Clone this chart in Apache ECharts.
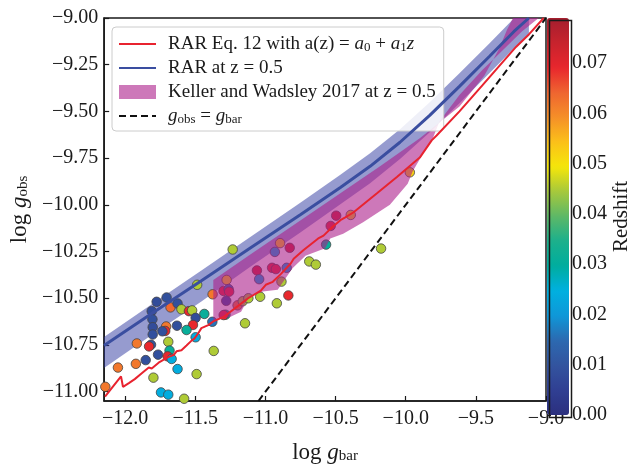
<!DOCTYPE html>
<html><head><meta charset="utf-8">
<script src="https://cdn.jsdelivr.net/npm/echarts@6/dist/echarts.min.js"></script>
<style>html,body{margin:0;padding:0;background:#fff}#c{width:633px;height:469px}</style>
</head><body><div id="c"></div>
<script>
// ---- tick values ----
const xTicks = [-12.0, -11.5, -11.0, -10.5, -10.0, -9.5, -9.0];
const yTicks = [-11.0, -10.75, -10.5, -10.25, -10.0, -9.75, -9.5, -9.25, -9.0];
const cbTicks = [0.00, 0.01, 0.02, 0.03, 0.04, 0.05, 0.06, 0.07];

// ---- galaxies: log gbar, log gobs, redshift ----
const galX = [-11.776,-11.705,-11.811,-11.806,-11.804,-11.804,-11.816,-11.677,-11.627,-11.599,
  -11.546,-11.523,-11.436,-11.498,-11.379,-11.517,-11.563,-11.708,-11.715,-11.735,
  -11.631,-11.498,-11.693,-11.830,-11.917,-11.766,-11.684,-11.698,-11.669,-11.854,
  -11.924,-12.052,-11.627,-11.799,-11.491,-11.369,-11.745,-11.693,-11.580,-12.142,
  -11.487,-11.377,-11.234,-11.277,-11.299,-11.263,-11.259,-11.280,-11.199,-11.162,
  -11.122,-11.285,-11.298,-11.146,-11.038,-10.919,-10.837,-10.886,-11.061,-11.045,
  -10.953,-10.926,-10.849,-10.933,-10.896,-10.827,-10.688,-10.641,-10.568,-10.535,
  -10.496,-10.392,-9.971,-10.176];
const galY = [-10.519,-10.496,-10.569,-10.613,-10.655,-10.694,-10.749,-10.549,-10.528,-10.559,
  -10.569,-10.565,-10.584,-10.605,-10.626,-10.643,-10.670,-10.651,-10.675,-10.677,
  -10.647,-10.709,-10.733,-10.758,-10.742,-10.802,-10.780,-10.811,-10.825,-10.831,
  -10.851,-10.871,-10.879,-10.925,-10.906,-10.782,-11.004,-11.016,-11.038,-10.974,
  -10.428,-10.479,-10.239,-10.402,-10.461,-10.451,-10.465,-10.514,-10.538,-10.516,
  -10.500,-10.588,-10.590,-10.634,-10.492,-10.527,-10.485,-10.411,-10.351,-10.398,
  -10.337,-10.344,-10.337,-10.252,-10.205,-10.230,-10.303,-10.320,-10.213,-10.113,
  -10.058,-10.054,-9.826,-10.234];
const galZ = [0.008,0.009,0.008,0.009,0.008,0.009,0.010,0.064,0.009,0.045,
  0.069,0.045,0.031,0.008,0.016,0.069,0.031,0.062,0.069,0.009,
  0.009,0.024,0.045,0.069,0.062,0.009,0.031,0.069,0.024,0.009,
  0.062,0.062,0.024,0.045,0.045,0.045,0.024,0.024,0.045,0.062,
  0.045,0.062,0.045,0.052,0.069,0.016,0.069,0.008,0.062,0.045,
  0.045,0.031,0.069,0.045,0.045,0.045,0.069,0.045,0.072,0.024,
  0.069,0.069,0.024,0.024,0.052,0.072,0.045,0.045,0.031,0.069,
  0.072,0.052,0.052,0.045];

// ---- RAR Eq. 12 with a(z) (red) ----
const redX = [-12.144,-12.030,-12.016,-11.974,-11.932,-11.882,-11.832,-11.811,-11.762,-11.691,
  -11.655,-11.634,-11.599,-11.563,-11.527,-11.507,-11.478,-11.457,-11.408,-11.372,
  -11.294,-11.195,-11.124,-11.033,-10.998,-10.948,-10.891,-10.820,-10.799,-10.728,
  -10.624,-10.586,-10.523,-10.466,-10.431,-10.374,-10.205,-10.063,-9.900,-9.815,
  -9.780,-9.617,-9.454,-9.334,-9.214,-9.122,-9.016];
const redY = [-11.026,-10.918,-10.974,-10.954,-10.933,-10.902,-10.871,-10.876,-10.845,-10.814,
  -10.804,-10.784,-10.778,-10.753,-10.727,-10.716,-10.686,-10.660,-10.644,-10.624,
  -10.598,-10.541,-10.500,-10.459,-10.428,-10.412,-10.371,-10.314,-10.289,-10.242,
  -10.180,-10.165,-10.119,-10.082,-10.067,-10.041,-9.938,-9.851,-9.747,-9.655,
  -9.629,-9.500,-9.361,-9.258,-9.155,-9.088,-9.000];

// ---- RAR at z = 0.5 (blue) with band ----
const blueX = [-12.151,-11.811,-11.457,-11.103,-10.749,-10.466,-10.254,-10.041,-9.829,-9.617,-9.404,-9.228,-9.122];
const blueY = [-10.753,-10.582,-10.407,-10.229,-10.052,-9.907,-9.794,-9.665,-9.521,-9.366,-9.206,-9.072,-9.000];
const blueUp = [-10.708,-10.532,-10.352,-10.169,-9.987,-9.839,-9.724,-9.595,-9.451,-9.296,-9.136,-9.002,-8.930];
const blueLo = [-10.873,-10.697,-10.517,-10.329,-10.147,-9.997,-9.884,-9.755,-9.611,-9.456,-9.296,-9.162,-9.090];

// ---- Keller & Wadsley 2017 band ----
const kwUpX = [-11.372,-11.103,-10.749,-10.466,-10.183,-9.900,-9.617,-9.440,-9.334,-9.277,-9.235];
const kwUpY = [-10.402,-10.263,-10.082,-9.938,-9.794,-9.644,-9.474,-9.309,-9.165,-9.062,-9.000];
const kwLoX = [-9.052,-9.172,-9.334,-9.454,-9.617,-9.759,-9.815,-9.865,-9.950,-9.986,-10.113,-10.304,
  -10.446,-10.538,-10.574,-10.715,-10.807,-10.913,-11.019,-11.118,-11.174,-11.245,-11.372];
const kwLoY = [-9.000,-9.072,-9.191,-9.278,-9.412,-9.552,-9.660,-9.711,-9.820,-9.887,-10.000,-10.093,
  -10.155,-10.180,-10.232,-10.273,-10.340,-10.454,-10.464,-10.495,-10.572,-10.598,-10.619];

// ---- one-to-one line ----
const oneX = [-11.05, -9.0];
const oneY = [-11.05, -9.0];

const FONT = 'Liberation Serif';
const INK = '#1a1a1a';
const fmt = d => v => (v < 0 ? '\u2212' : '') + Math.abs(v).toFixed(d);

const richMath = {
  i: {fontFamily: FONT, fontStyle: 'italic', fontSize: 19, color: INK},
  s: {fontFamily: FONT, fontSize: 13, color: INK, verticalAlign: 'bottom', padding: [6, 0, 0, 0]}
};

const galData = galX.map((x, i) => [x, galY[i], galZ[i]]);
const pairs = (xs, ys) => xs.map((x, i) => [x, ys[i]]);

function polySeries(name, xs, ys, color, z) {
  return {
    type: 'custom', name: name, z: z, clip: true, silent: true,
    xAxisIndex: 0, yAxisIndex: 0,
    data: [[xs[0], ys[0]]],
    renderItem: function (params, api) {
      const pts = xs.map((x, i) => api.coord([x, ys[i]]));
      return {type: 'polygon', shape: {points: pts}, style: {fill: color}};
    }
  };
}

const blueBandX = blueX.concat(blueX.slice().reverse());
const blueBandY = blueUp.concat(blueLo.slice().reverse());
const kwX = kwUpX.concat(kwLoX);
const kwY = kwUpY.concat(kwLoY);

const legendNames = {
  eq12: 'RAR Eq. 12 with a(z) = {i|a}{s|0} + {i|a}{s|1}{i|z}',
  rar: 'RAR at z = 0.5',
  kw: 'Keller and Wadsley 2017 at z = 0.5',
  one: '{i|g}{s|obs} = {i|g}{s|bar}'
};

const chart = echarts.init(document.getElementById('c'), null, {renderer: 'canvas'});
chart.setOption({
  animation: false,
  backgroundColor: '#fff',
  grid: [
    {left: 102, right: 87, top: 18, bottom: 54, show: true, borderColor: INK, borderWidth: 1.5, backgroundColor: 'transparent'},
    {left: 547, width: 22, top: 18, bottom: 54, show: false}
  ],
  xAxis: [{
    type: 'value', gridIndex: 0, min: -12.15, max: -9.0,
    axisLine: {show: true, onZero: false, lineStyle: {color: INK, width: 1.5}},
    axisTick: {show: true, inside: true, length: 5, customValues: xTicks, lineStyle: {color: INK, width: 1.2}},
    axisLabel: {show: true, customValues: xTicks, formatter: fmt(1), margin: 8, fontFamily: FONT, fontSize: 20, color: INK},
    splitLine: {show: false},
    name: '{r|log }{i|g}{s|bar}', nameLocation: 'middle', nameGap: 40,
    nameTextStyle: {rich: {
      r: {fontFamily: FONT, fontSize: 23, color: INK},
      i: {fontFamily: FONT, fontStyle: 'italic', fontSize: 23, color: INK},
      s: {fontFamily: FONT, fontSize: 15, color: INK, verticalAlign: 'bottom', padding: [8, 0, 0, 0]}
    }}
  }, {
    type: 'value', gridIndex: 1, min: 0, max: 1, show: false
  }],
  yAxis: [{
    type: 'value', gridIndex: 0, min: -11.05, max: -9.0,
    axisLine: {show: true, onZero: false, lineStyle: {color: INK, width: 1.5}},
    axisTick: {show: true, inside: true, length: 5, customValues: yTicks, lineStyle: {color: INK, width: 1.2}},
    axisLabel: {show: true, customValues: yTicks, formatter: fmt(2), margin: 6, fontFamily: FONT, fontSize: 20, color: INK},
    splitLine: {show: false},
    name: '{r|log }{i|g}{s|obs}', nameLocation: 'middle', nameGap: 72, nameRotate: 90,
    nameTextStyle: {rich: {
      r: {fontFamily: FONT, fontSize: 23, color: INK},
      i: {fontFamily: FONT, fontStyle: 'italic', fontSize: 23, color: INK},
      s: {fontFamily: FONT, fontSize: 15, color: INK, verticalAlign: 'bottom', padding: [8, 0, 0, 0]}
    }}
  }, {
    type: 'value', gridIndex: 1, min: 0, max: 0.079, position: 'right',
    axisLine: {show: false},
    axisTick: {show: true, inside: false, length: 4, customValues: cbTicks, lineStyle: {color: INK, width: 1.2}},
    axisLabel: {show: true, customValues: cbTicks, formatter: v => v.toFixed(2), margin: 10, fontFamily: FONT, fontSize: 20, color: INK},
    splitLine: {show: false},
    name: 'Redshift', nameLocation: 'middle', nameGap: 47, nameRotate: 90,
    nameTextStyle: {fontFamily: FONT, fontSize: 21, color: INK}
  }],
  visualMap: {
    type: 'continuous', seriesIndex: 1, dimension: 2, min: 0, max: 0.079,
    left: 547, top: 18, itemWidth: 22, itemHeight: 397, padding: 0,
    calculable: false, realtime: false, hoverLink: false, text: null, showLabel: false,
    inRange: {color: ['#2b2f7e','#303f93','#33549f','#2c69b0','#0f97d8','#00b0e0','#00ad9f','#1bb08c',
      '#5db867','#a6c83c','#f5e60a','#fbc019','#f58f28','#ef6530','#e8262d','#c7232d','#a51e2e']}
  },
  legend: {
    orient: 'vertical', left: 112, top: 27,
    itemWidth: 37, itemHeight: 14, itemGap: 4,
    padding: [7, 8, 5, 6],
    backgroundColor: 'rgba(255,255,255,0.85)', borderColor: '#cccccc', borderWidth: 1, borderRadius: 4,
    selectedMode: false,
    itemStyle: {opacity: 0},
    textStyle: {fontFamily: FONT, fontSize: 19, lineHeight: 20, color: INK, padding: [0, 0, 0, 7], rich: richMath},
    formatter: n => legendNames[n],
    data: [
      {name: 'eq12'},
      {name: 'rar'},
      {name: 'kw', icon: 'rect', itemStyle: {color: 'rgba(172,30,138,0.6)', opacity: 1}},
      {name: 'one'}
    ]
  },
  graphic: [{
    type: 'rect', left: 547, top: 18, z: 100, silent: true,
    shape: {width: 22, height: 397},
    style: {fill: 'none', stroke: INK, lineWidth: 1.5}
  }],
  series: [
    polySeries('rarband', blueBandX, blueBandY, 'rgba(45,55,160,0.5)', 1),
    {
      type: 'scatter', name: 'gal', z: 2, data: galData, symbolSize: 9.5,
      itemStyle: {borderColor: '#444', borderWidth: 0.8, opacity: 1}
    },
    polySeries('kw', kwX, kwY, 'rgba(172,30,138,0.6)', 3),
    {
      type: 'line', name: 'rar', z: 4, data: pairs(blueX, blueY), symbol: 'none', smooth: false,
      lineStyle: {color: '#3a4ea0', width: 3}, itemStyle: {color: '#3a4ea0'}
    },
    {
      type: 'line', name: 'eq12', z: 5, data: pairs(redX, redY), symbol: 'none',
      lineStyle: {color: '#e8232f', width: 2}, itemStyle: {color: '#e8232f'}
    },
    {
      type: 'line', name: 'one', z: 5, data: pairs(oneX, oneY), symbol: 'none',
      lineStyle: {color: '#111', width: 2, type: [7, 4]}, itemStyle: {color: '#111'}
    }
  ]
});
</script></body></html>
